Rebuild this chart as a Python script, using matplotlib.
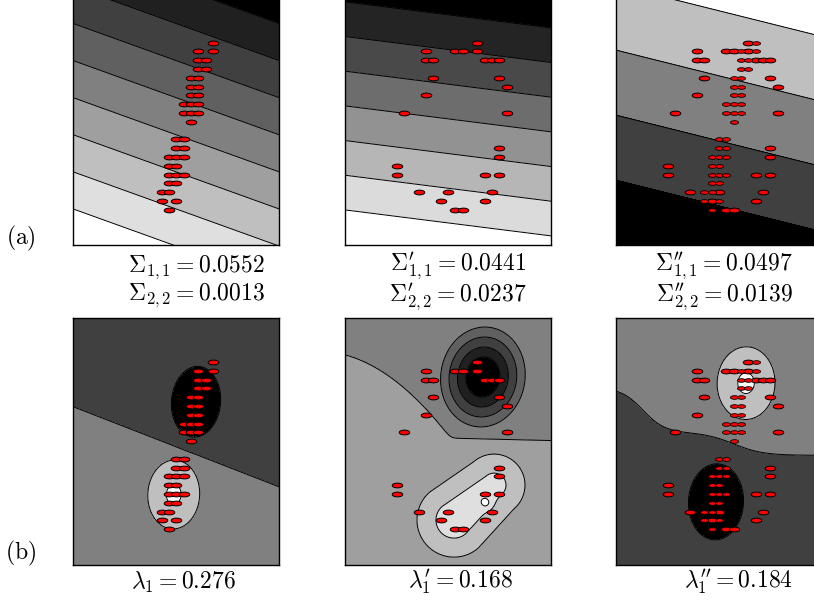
import numpy as np
import matplotlib.pyplot as plt
from matplotlib.path import Path

plt.rcParams['mathtext.fontset'] = 'cm'

# stroke points on the sampling grid: column index, row index (row 0 = top)
a_cols = [7, 5, 7, 5, 6, 5, 6, 4, 5, 4, 5, 4, 5, 3, 4, 5, 3, 4, 5, 4,
          2, 3, 2, 3, 1, 2, 3, 1, 2, 1, 2, 3, 1, 2, 0, 1, 0, 2, 1]
a_rows = [0, 1, 1, 2, 2, 3, 3, 4, 4, 5, 5, 6, 6, 7, 7, 7, 8, 8, 8, 9,
          11, 11, 12, 12, 13, 13, 13, 14, 14, 15, 15, 15, 16, 16, 17, 17, 18, 18, 19]
b_cols = [6, -1, 3, 4, 6, -1, 0, 7, 8, 9, 0, 9, 10, -1, -4, 10,
          9, 9, -5, -5, 7, 9, -2, 2, 8, 1, 7, 3, 4]
b_rows = [0, 1, 1, 1, 1, 2, 2, 2, 2, 2, 4, 4, 5, 6, 8, 8,
          12, 13, 14, 15, 15, 15, 17, 17, 17, 18, 18, 19, 19]

primes = ["", r"^{\prime}", r"^{\prime\prime}"]
sigma11 = [0.0552, 0.0441, 0.0497]
sigma22 = [0.0013, 0.0237, 0.0139]
lambda1 = [0.276, 0.168, 0.184]
row_labels = ["(a)", "(b)"]

XLIM = (-12.06, 16.0)
YLIM = (23.0, -5.0)


def sig(z):
    return 0.5 * (1 + np.tanh(z / 2))


def ell(c, r, c0, r0, a, b, tilt):
    t = np.deg2rad(tilt)
    dc, dr = c - c0, r - r0
    u = dc * np.cos(t) + dr * np.sin(t)
    v = dc * np.sin(t) - dr * np.cos(t)
    return np.hypot(u / a, v / b)


def seg_dist(c, r, p, q, k=1.2):
    # distance to segment p-q (column units) and position t along it
    px, py, qx, qy = p[0], p[1] * k, q[0], q[1] * k
    x, y = c, r * k
    dx, dy = qx - px, qy - py
    t = np.clip(((x - px) * dx + (y - py) * dy) / (dx * dx + dy * dy), 0, 1)
    return np.hypot(x - px - t * dx, y - py - t * dy), t


C, R = np.meshgrid(np.linspace(-12.5, 16.5, 900), np.linspace(-5.5, 23.5, 900))
grays = lambda n: [str(v) for v in np.linspace(0, 1, n)]

# top row: planar fields
fa1 = R - 0.30 * C
lv_a1 = [-30] + list(-6.97 + 4.214 * np.arange(8)) + [40]
fa2 = R - 0.105 * C
lv_a2 = [-30] + list(-3.36 + 3.94 * np.arange(7)) + [40]
fa3 = R - 0.208 * C
lv_a3 = [-30] + list(-4.02 + 7.39 * np.arange(4)) + [40]

# bottom row
fb1 = 0.5 * np.tanh((R - (8.99 + 0.324 * C)) / 0.12)
fb1 -= np.clip(1.5 - ell(C, R, 4.68, 4.51, 3.34, 4.03, 10), 0, None)
fb1 += np.clip(1.9 - 1.4 * ell(C, R, 1.64, 15.05, 3.53, 3.92, 8), 0, None)
lv_b1 = [-9, -1, 0, 1, 2, 9]

q = 0.0302 * C ** 2 + 0.952 * C + 6.273
cap = 8.6 + 0.02 * C
rb2 = -0.3 * np.logaddexp(-q / 0.3, -cap / 0.3)
fb2 = 5 + 0.5 * np.tanh((R - rb2) / 0.12)
fb2 -= 5 * np.clip(1.1 - ell(C, R, 6.75, 1.70, 5.87, 5.57, -35), 0, None)
dseg, tseg = seg_dist(C, R, (8.27, 13.98), (2.81, 17.95))
fb2 += np.clip(2.13 + 0.32 * tseg - 0.386 * dseg, 0, None)
fb2 += 1.0 * np.exp(-((C - 7.18) ** 2 + (1.2 * (R - 16.02)) ** 2) / (2 * 0.55 ** 2))
lv_b2 = [-20, 1, 2, 3, 4, 5, 6, 7, 8, 20]

rb3 = 2.9 + 5.1 * sig((C + 8.4) / 1.5) + 2.6 * sig((C - 4) / 2)
fb3 = -0.5 * np.tanh((R - rb3) / 0.12)
fb3 += np.clip(1.9 - 1.4 * ell(C, R, 5.68, 2.4, 3.94, 4.13, 8), 0, None)
fb3 -= np.clip(1.5 - ell(C, R, 1.58, 15.88, 3.75, 4.32, 6), 0, None)
lv_b3 = [-9, -1, 0, 1, 2, 9]

fields = [[(fa1, lv_a1, grays(9)), (fa2, lv_a2, grays(8)), (fa3, lv_a3, grays(5)[::-1])],
          [(fb1, lv_b1, grays(5)), (fb2, lv_b2, grays(9)), (fb3, lv_b3, grays(5))]]

t = np.linspace(0, 2 * np.pi, 41)
dot = Path(np.column_stack([np.cos(t), 0.45 * np.sin(t)]))

fig = plt.figure(figsize=(8.14, 6.07), dpi=100)
W, H = 814.0, 607.0
lefts = [73.3, 345.0, 616.0]
tops = [-1.5, 318.0]
pw, ph = 205.7, 246.5

for i in range(2):
    for j in range(3):
        ax = fig.add_axes([lefts[j] / W, 1 - (tops[i] + ph) / H, pw / W, ph / H])
        f, lv, cols = fields[i][j]
        ax.contourf(C, R, f, levels=lv, colors=cols)
        ax.contour(C, R, f, levels=lv[1:-1], colors='k', linewidths=0.7,
                   linestyles='solid')
        if j == 0:
            ax.scatter(a_cols, a_rows, s=58, marker=dot, c='red', edgecolors='k',
                       linewidths=0.7, zorder=3)
        elif j == 1:
            ax.scatter(b_cols, b_rows, s=58, marker=dot, c='red', edgecolors='k',
                       linewidths=0.7, zorder=3)
        else:
            ax.scatter(b_cols, b_rows, s=58, marker=dot, c='red', edgecolors='k',
                       linewidths=0.7, zorder=3)
            ax.scatter(a_cols, a_rows, s=34, marker=dot, c='red', edgecolors='k',
                       linewidths=0.6, zorder=3)
        ax.set_xlim(*XLIM)
        ax.set_ylim(*YLIM)
        ax.set_xticks([])
        ax.set_yticks([])
        for sp in ax.spines.values():
            sp.set_linewidth(1.0)

top_x = [196, 458, 724]
bot_x = [183, 460, 738]
fs = 17
for j in range(3):
    p = primes[j]
    label = (rf"$\Sigma{p}_{{1,1}} = {sigma11[j]:.4f}$" + "\n" +
             rf"$\Sigma{p}_{{2,2}} = {sigma22[j]:.4f}$")
    fig.text(top_x[j] / W, 1 - 281.5 / H, label, ha='center', va='center',
             fontsize=fs, linespacing=1.0, multialignment='center')
    fig.text(bot_x[j] / W, 1 - 582 / H, rf"$\lambda{p}_1 = {lambda1[j]:.3f}$",
             ha='center', va='center', fontsize=fs)

fig.text(21 / W, 1 - 238 / H, r"$\mathrm{" + row_labels[0] + "}$", ha='center', va='center', fontsize=fs)
fig.text(21 / W, 1 - 553 / H, r"$\mathrm{" + row_labels[1] + "}$", ha='center', va='center', fontsize=fs)

fig.savefig("out.png", dpi=100)
